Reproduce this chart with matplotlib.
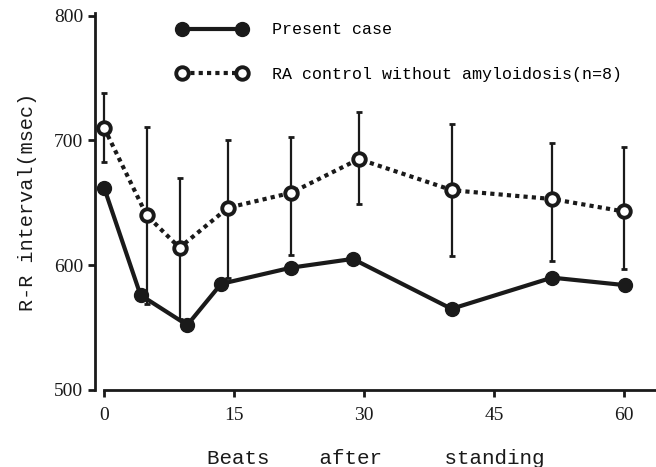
import matplotlib
matplotlib.use('Agg')
from matplotlib import pyplot as plt

plt.rcParams['font.family'] = ['Liberation Mono', 'DejaVu Sans Mono']

# present case (single patient)
case_x = [0, 4.2, 9.6, 13.5, 21.6, 28.7, 40.1, 51.7, 60.1]
case_y = [662, 576, 552, 585, 598, 605, 565, 590, 584]

# RA control without amyloidosis, mean with error bars
ctrl_x = [0, 4.9, 8.7, 14.3, 21.6, 29.4, 40.2, 51.7, 60]
ctrl_y = [710, 640, 614, 646, 658, 685, 660, 653, 643]
ctrl_top = [738, 711, 670, 700, 703, 723, 713, 698, 695]
ctrl_bot = [683, 569, 557, 590, 608, 649, 607, 603, 597]

err_lo = [m - b for m, b in zip(ctrl_y, ctrl_bot)]
err_hi = [t - m for m, t in zip(ctrl_y, ctrl_top)]

fig = plt.figure(figsize=(6.56, 4.67), dpi=100)
ax = fig.add_axes([0.145, 0.165, 0.855, 0.807])

ax.errorbar(ctrl_x, ctrl_y, yerr=[err_lo, err_hi], fmt='none', ecolor='#1a1a1a',
            elinewidth=1.6, capsize=2.5, capthick=2, zorder=1)

ax.plot(case_x, case_y, color='#1a1a1a', linewidth=3, marker='o', markersize=10,
        markerfacecolor='#1a1a1a', markeredgecolor='#1a1a1a', label='Present case', zorder=3)
ax.plot(ctrl_x, ctrl_y, color='#1a1a1a', linewidth=3, linestyle=(0, (1, 1)), marker='o',
        markersize=9, markerfacecolor='white', markeredgecolor='#1a1a1a', markeredgewidth=2.8,
        label='RA control without amyloidosis(n=8)', zorder=3)

ax.set_xlim(-1.04, 63.7)
ax.set_ylim(500, 802)
ax.set_xticks([0, 15, 30, 45, 60])
ax.set_yticks([500, 600, 700, 800])

ax.spines['top'].set_visible(False)
ax.spines['right'].set_visible(False)
ax.spines['bottom'].set_bounds(0, 63.7)
for s in ['left', 'bottom']:
    ax.spines[s].set_linewidth(2)
    ax.spines[s].set_color('#1a1a1a')
ax.tick_params(axis='both', width=2, length=5, color='#1a1a1a', labelsize=14, labelcolor='#1a1a1a')
ax.tick_params(axis='x', pad=7)
for lbl in ax.get_xticklabels() + ax.get_yticklabels():
    lbl.set_family('Liberation Serif')

ax.set_xlabel('Beats    after     standing', fontsize=15, labelpad=18, color='#1a1a1a')
ax.set_ylabel('R-R interval(msec)', fontsize=14.5, labelpad=12, color='#1a1a1a')

ax.legend(loc='upper left', bbox_to_anchor=(0.12, 1.015), frameon=False, fontsize=12,
          numpoints=2, handlelength=4.2, labelspacing=1.75, handletextpad=1.5)

plt.savefig('out.png', dpi=100)
